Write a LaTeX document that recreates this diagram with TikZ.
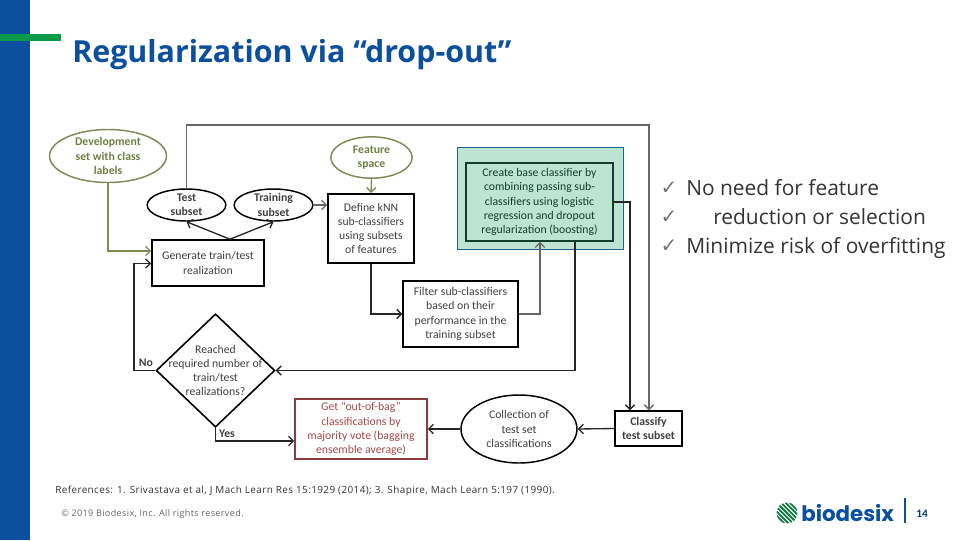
\documentclass[tikz,border=0pt]{standalone}
\usepackage{fontspec}
\setmainfont{Carlito}
\newfontfamily\slidefont{Open Sans}
\newfontfamily\smallfont[LetterSpace=4]{Open Sans}
\newfontfamily\logofont{Poppins}
\newfontfamily\checkfont{DejaVu Sans}
\usetikzlibrary{arrows.meta,positioning,shapes.geometric,calc}
\definecolor{bioblue}{HTML}{0B4F9E}
\definecolor{biogreen}{HTML}{0A9A4A}
\definecolor{olivetext}{HTML}{6F7F45}
\definecolor{oliveline}{HTML}{7D8C55}
\definecolor{redline}{HTML}{8C3A3C}
\definecolor{redtext}{HTML}{A5484A}
\definecolor{tealfill}{HTML}{BDE3D2}
\definecolor{tealline}{HTML}{1F6390}
\definecolor{darkgreen}{HTML}{123F2C}
\newcommand{\flowsize}{\fontsize{8.8}{10.7}\selectfont}

\begin{document}
\begin{tikzpicture}[x=0.75pt,y=-0.75pt,
        flowtext/.style={align=center, inner sep=0pt, text=black!75, font=\flowsize},
        procbox/.style={flowtext, draw=black, line width=1.2pt},
        roundbox/.style={flowtext, ellipse, draw=black, line width=1.1pt},
        inputbox/.style={roundbox, draw=oliveline, text=olivetext, font=\bfseries\flowsize},
        arrow/.style={-{Straight Barb[length=3.5pt,width=7pt]}, line width=1pt, black!85},
        greyarrow/.style={arrow, black!60},
        olivearrow/.style={arrow, oliveline},
        listtext/.style={anchor=base west, inner sep=0pt, text=black!80, font=\slidefont\fontsize{15.7}{18}\selectfont},
        listcheck/.style={anchor=center, inner sep=0pt, text=black!55, font=\checkfont\fontsize{15}{17}\selectfont}
    ]
    \useasboundingbox (0,0) rectangle (960,540);

    % Rand der Folie
    \fill[bioblue] (0,0) rectangle (30,540);
    \fill[biogreen] (0,34) rectangle (61,41);
    \node[anchor=west, inner sep=0pt, text=bioblue, font=\slidefont\bfseries\fontsize{22.8}{27}\selectfont] (title) at (72,54.5) {Regularization via “drop-out”};

    % Eingaben
    \node[inputbox, minimum width=87.75pt, minimum height=39.75pt] (devset) at (108,156) {Development\\set with class\\labels};
    \node[inputbox, minimum width=61pt, minimum height=31pt] (features) at (371.5,157.5) {Feature\\space};

    % Teilmengen
    \node[roundbox, font=\bfseries\flowsize, minimum width=59pt, minimum height=24pt] (testset) at (186.5,205) {Test\\subset};
    \node[roundbox, font=\bfseries\flowsize, minimum width=59pt, minimum height=24pt] (trainset) at (273.5,205) {Training\\subset};

    % Schritte
    \node[procbox, minimum width=84pt, minimum height=34.5pt] (generate) at (208,263) {Generate train/test\\realization};
    \node[procbox, minimum width=64.5pt, minimum height=52pt] (define) at (371,228.5) {Define kNN\\sub-classifiers\\using subsets\\of features};
    \node[procbox, minimum width=86pt, minimum height=49.5pt] (filter) at (460.5,314) {Filter sub-classifiers\\based on their\\performance in the\\training subset};
    \node[draw=tealline, line width=0.6pt, fill=tealfill, minimum width=124.5pt, minimum height=76pt] (tealback) at (540,198.5) {};
    \node[procbox, draw=darkgreen, text=darkgreen, minimum width=110pt, minimum height=58.5pt] (create) at (539.5,202) {Create base classifier by\\combining passing sub-\\classifiers using logistic\\regression and dropout\\regularization (boosting)};
    \node[diamond, draw=black, line width=1.2pt, inner sep=0pt, minimum width=89pt, minimum height=85pt] (reached) at (215.5,370.5) {};
    \node[flowtext] (reachedtext) at (reached.center) {Reached\\required number of\\train/test\\realizations?};
    \node[procbox, draw=redline, text=redtext, minimum width=99pt, minimum height=45pt] (bagvote) at (361,429) {Get “out-of-bag”\\classifications by\\majority vote (bagging\\ensemble average)};
    \node[roundbox, minimum width=87pt, minimum height=51pt] (collect) at (519,429) {Collection of\\test set\\classifications};
    \node[procbox, font=\bfseries\flowsize, minimum width=50pt, minimum height=26pt] (classify) at (648.5,428.5) {Classify\\test subset};

    % Hilfspunkte
    \coordinate (toproute) at (186.5,125);
    \coordinate (classifya) at ($(classify.north)+(-18.5,0)$);
    \coordinate (classifyb) at ($(classify.north)+(0.5,0)$);
    \coordinate (createdown) at ($(create.south)+(35.5,0)$);
    \coordinate (createin) at ($(create.south)+(0.5,0)$);
    \coordinate (genin) at ($(generate.west)+(0,-12)$);
    \coordinate (genback) at ($(generate.west)+(0,0.5)$);
    \coordinate (noleft) at (134,370.5);

    % Pfeile
    \draw[olivearrow] (devset.south) |- (genin);
    \draw[olivearrow] (features.south) -- (define.north);
    \draw[arrow] (generate.north) ++(22,0) coordinate (genout) -- (testset.south);
    \draw[arrow] (genout) -- (trainset.south);
    \draw[greyarrow] (trainset.east) -- (trainset.east -| define.west);
    \draw[greyarrow] (testset.north) |- (toproute -| classifyb) -- (classifyb);
    \draw[arrow] (create.east) -| (classifya);
    \draw[arrow] (createdown) |- (reached.east);
    \draw[greyarrow] (filter.east) -| (createin);
    \draw[arrow] (define.south) |- (filter.west);
    \draw[arrow] (reached.west) -- (noleft) |- (genback);
    \draw[arrow] (reached.south) |- ($(bagvote.west)+(0,12)$);
    \draw[arrow] (collect.west) -- (bagvote.east);
    \draw[arrow] (classify.west) -- (collect.east);

    % Etiketten
    \node[flowtext, font=\bfseries\flowsize] (nolabel) at (146,363) {No};
    \node[flowtext, font=\bfseries\flowsize] (yeslabel) at (227,434) {Yes};

    % Liste rechts
    \foreach \row/\ypos/\xpos/\txt in {a/188/686/No need for feature, b/217/713/reduction or selection, c/246/686/Minimize risk of overfitting}{
        \node[listcheck] (check\row) at (669,\ypos) {✓};
        \node[listtext] (item\row) at (\xpos,\ypos+7) {\txt};
    }

    % Fusszeile
    \node[anchor=west, inner sep=0pt, text=black!80, font=\smallfont\fontsize{7.45}{9}\selectfont] (refs) at (55,491) {References: 1. Srivastava et al, J Mach Learn Res 15:1929 (2014); 3. Shapire, Mach Learn 5:197 (1990).};
    \node[anchor=west, inner sep=0pt, text=black!60, font=\smallfont\fontsize{6.8}{8}\selectfont] (rights) at (61,514) {© 2019 Biodesix, Inc. All rights reserved.};

    % Logo
    \begin{scope}
        \clip (787,513) circle (10.5);
        \foreach \k in {-4,...,4}{
            \draw[biogreen!80!black, line width=1.35pt] (787+\k*4.4-14,513-14) -- (787+\k*4.4+14,513+14);
        }
    \end{scope}
    \node[anchor=west, inner sep=0pt, text=bioblue, font=\logofont\bfseries\fontsize{16}{18}\selectfont] (logoname) at (801,513) {biodesix};
    \draw[bioblue, line width=1pt] (905,498) -- (905,523);
    \node[inner sep=0pt, text=bioblue!70!black, font=\bfseries\fontsize{8.5}{10}\selectfont] (pagenum) at (922,514) {14};
\end{tikzpicture}
\end{document}
